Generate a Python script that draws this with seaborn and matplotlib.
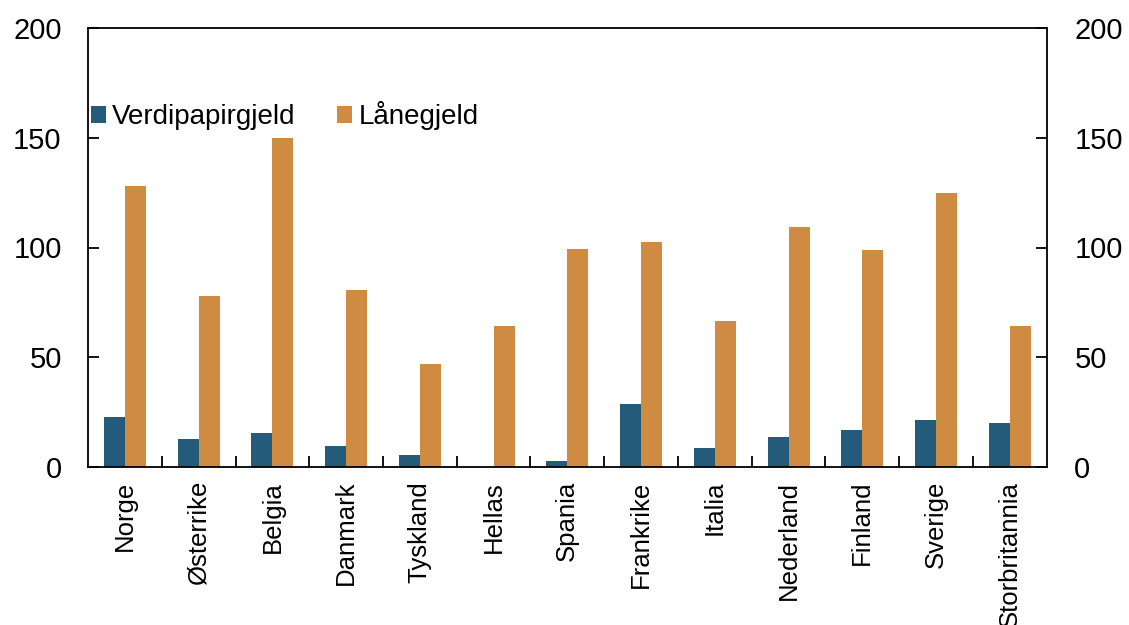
import pandas as pd
import matplotlib
matplotlib.use("Agg")
import matplotlib.pyplot as plt
import seaborn as sns

# Data
land = ["Norge", "Østerrike", "Belgia", "Danmark", "Tyskland", "Hellas", "Spania",
        "Frankrike", "Italia", "Nederland", "Finland", "Sverige", "Storbritannia"]
verdipapirgjeld = [22.7, 12.6, 15.6, 9.3, 5.5, 0.0, 2.6, 28.7, 8.5, 13.5, 16.7, 21.3, 19.9]
lanegjeld = [128, 78, 150, 80.5, 47, 64, 99.5, 102.5, 66.5, 109.5, 99, 125, 64]
serier = ["Verdipapirgjeld", "Lånegjeld"]
farger = ["#245a7a", "#cf8b41"]

sns.set_theme(style="white")
plt.rcParams["font.family"] = ["Liberation Sans", "DejaVu Sans"]

df = pd.DataFrame({
    "Land": land * 2,
    "Verdi": verdipapirgjeld + lanegjeld,
    "Serie": [serier[0]] * len(land) + [serier[1]] * len(land),
})

fig = plt.figure(figsize=(11.29, 6.25), dpi=100)
ax = fig.add_axes([0.078, 0.253, 0.849, 0.702])

sns.barplot(data=df, x="Land", y="Verdi", hue="Serie", palette=farger,
            width=0.57, saturation=1, ax=ax, edgecolor="none")

ax.set_ylim(0, 200)
ax.set_xlim(-0.5, len(land) - 0.5)
ax.set_yticks([0, 50, 100, 150, 200])
ax.set_xlabel("")
ax.set_ylabel("")

for s in ax.spines.values():
    s.set_color("black")
    s.set_linewidth(1.3)

ax.tick_params(axis="y", direction="in", length=8, width=1.3, labelsize=21, pad=19,
               left=True, colors="black")
ax.set_xticks(range(len(land)))
ax.set_xticklabels(land, rotation=90, fontsize=18.5)
ax.tick_params(axis="x", which="major", length=0, pad=10, labelcolor="black")
ax.set_xticks([i + 0.5 for i in range(len(land) - 1)], minor=True)
ax.tick_params(axis="x", which="minor", direction="in", length=8, width=1.3,
               bottom=True, color="black")

ax2 = ax.twinx()
ax2.set_ylim(0, 200)
ax2.set_yticks([0, 50, 100, 150, 200])
ax2.tick_params(axis="y", direction="in", length=8, width=1.3, labelsize=21, pad=20,
                right=True, colors="black")
for s in ax2.spines.values():
    s.set_visible(False)

leg = ax.legend(loc="center left", bbox_to_anchor=(0.003, 0.8), ncol=2, frameon=False,
                fontsize=20, handlelength=0.54, handleheight=0.54, handletextpad=0.22,
                columnspacing=1.5, borderaxespad=0, borderpad=0)
for t in leg.get_texts():
    t.set_color("black")

fig.savefig("out.png", dpi=100)
